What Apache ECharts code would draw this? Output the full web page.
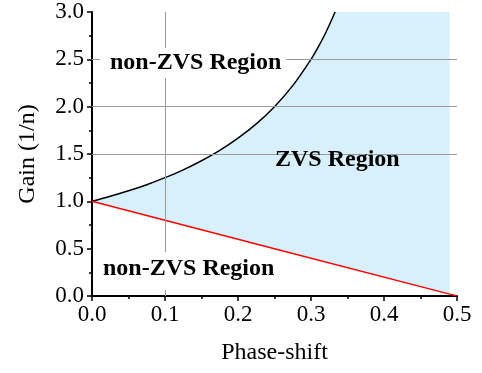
<!DOCTYPE html>
<html>
<head>
<meta charset="utf-8">
<script src="https://cdn.jsdelivr.net/npm/echarts@6/dist/echarts.min.js"></script>
<style>html,body{margin:0;padding:0;background:#fff}#c{width:482px;height:373px}</style>
</head>
<body>
<div id="c"></div>
<script>
// Upper ZVS boundary (black curve)
var curveX = [0, 0.025, 0.05, 0.075, 0.1, 0.125, 0.15, 0.175, 0.2, 0.225, 0.25, 0.275, 0.3, 0.31, 0.32, 0.333];
var curveY = [1.0, 1.053, 1.111, 1.176, 1.25, 1.333, 1.429, 1.538, 1.667, 1.818, 2.0, 2.222, 2.5, 2.632, 2.778, 3.0];
// Lower ZVS boundary (red line)
var lineX = [0, 0.25, 0.49, 0.5];
var lineY = [1.0, 0.5, 0.02, 0.0];
// Shaded ZVS region limits
var fillEndX = 0.49;
var fillTopY = 3.0;
// Axis ticks / grid lines
var xTicks = [0, 0.1, 0.2, 0.3, 0.4, 0.5];
var yTicks = [0, 0.5, 1.0, 1.5, 2.0, 2.5, 3.0];
var gridYLines = [1.5, 2.0, 2.5];
var gridXLines = [0.1];
var labelNonZVS = 'non-ZVS Region';
var labelZVS = 'ZVS Region';

var serif = '"Liberation Serif", "Times New Roman", serif';
var chart = echarts.init(document.getElementById('c'), null, {renderer: 'canvas'});

function zip(a, b) { return a.map(function (v, i) { return [v, b[i]]; }); }
var curvePts = zip(curveX, curveY);
var linePts = zip(lineX, lineY);

// polygon of ZVS region: up the black curve, along the top, down the right edge, back along red line
var fillPoly = curvePts.slice();
fillPoly.push([fillEndX, fillTopY]);
var redEnd = linePts.filter(function (p) { return p[0] <= fillEndX; });
for (var i = redEnd.length - 1; i >= 0; i--) fillPoly.push(redEnd[i]);

var gridLineData = gridYLines.map(function (v) { return {yAxis: v}; })
  .concat(gridXLines.map(function (v) { return {xAxis: v}; }));

chart.setOption({
  animation: false,
  backgroundColor: '#fff',
  grid: {left: 92, right: 25, top: 12, bottom: 77, containLabel: false},
  xAxis: {
    type: 'value', min: xTicks[0], max: xTicks[xTicks.length - 1], interval: 0.1,
    name: 'Phase-shift', nameLocation: 'middle', nameGap: 45,
    nameTextStyle: {fontFamily: serif, fontSize: 24, color: '#000'},
    axisLine: {show: true, onZero: false, lineStyle: {color: '#000', width: 2}},
    axisTick: {show: true, inside: false, length: 5, lineStyle: {color: '#000', width: 1.5}},
    minorTick: {show: true, splitNumber: 2, length: 3, lineStyle: {color: '#000', width: 1.5}},
    axisLabel: {fontFamily: serif, fontSize: 23, color: '#000', margin: 7,
      formatter: function (v) { return v.toFixed(1); }},
    splitLine: {show: false}
  },
  yAxis: {
    type: 'value', min: yTicks[0], max: yTicks[yTicks.length - 1], interval: 0.5,
    name: 'Gain (1/n)', nameLocation: 'middle', nameGap: 52,
    nameTextStyle: {fontFamily: serif, fontSize: 24, color: '#000'},
    axisLine: {show: true, onZero: false, lineStyle: {color: '#000', width: 2}},
    axisTick: {show: true, inside: false, length: 5, lineStyle: {color: '#000', width: 1.5}},
    minorTick: {show: true, splitNumber: 2, length: 3, lineStyle: {color: '#000', width: 1.5}},
    axisLabel: {fontFamily: serif, fontSize: 23, color: '#000', margin: 8,
      formatter: function (v) { return v.toFixed(1); }},
    splitLine: {show: false}
  },
  series: [
    {
      type: 'custom', z: 1, silent: true,
      data: [[0, 0]],
      renderItem: function (params, api) {
        var pts = fillPoly.map(function (p) { return api.coord(p); });
        return {type: 'polygon', shape: {points: pts}, style: {fill: '#d8f0fc'}};
      }
    },
    {
      type: 'line', z: 2, silent: true, data: [], symbol: 'none',
      markLine: {
        silent: true, symbol: 'none', label: {show: false},
        lineStyle: {color: '#9a9a9a', width: 1, type: 'solid'},
        data: gridLineData
      }
    },
    {
      type: 'line', z: 3, data: curvePts, symbol: 'none', smooth: 0.3,
      lineStyle: {color: '#000', width: 1.5}
    },
    {
      type: 'line', z: 3, data: linePts, symbol: 'none',
      lineStyle: {color: '#ff0000', width: 1.5}
    }
  ],
  graphic: [
    {type: 'text', left: 100, top: 48, z: 100,
      style: {text: labelNonZVS, font: 'bold 24px ' + serif, fill: '#000',
        backgroundColor: '#fff', padding: [3, 5, 3, 10]}},
    {type: 'text', left: 100, top: 252, z: 100,
      style: {text: labelNonZVS, font: 'bold 24px ' + serif, fill: '#000',
        backgroundColor: '#fff', padding: [5, 4, 9, 3]}},
    {type: 'text', left: 275, top: 148, z: 100,
      style: {text: labelZVS, font: 'bold 24px ' + serif, fill: '#000'}}
  ]
});
</script>
</body>
</html>
